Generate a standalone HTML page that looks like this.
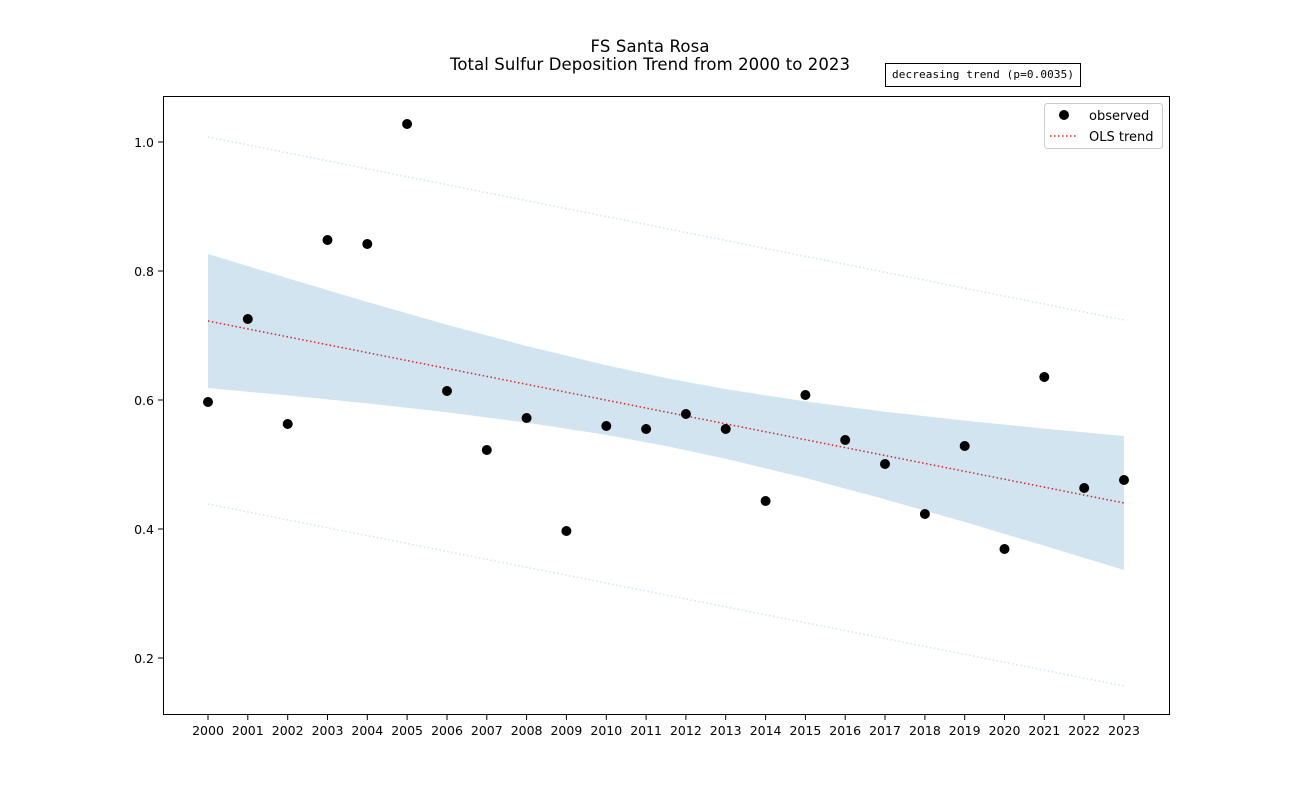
<!DOCTYPE html>
<html><head><meta charset="utf-8"><style>body{margin:0;background:#fff}svg{display:block}</style></head>
<body>
<svg width="1300" height="803" xmlns="http://www.w3.org/2000/svg" font-family="DejaVu Sans, Liberation Sans, sans-serif">
<rect width="1300" height="803" fill="#fff"/>
<text x="650" y="52" font-size="16.5" text-anchor="middle" textLength="119">FS Santa Rosa</text>
<text x="650" y="70" font-size="16.5" text-anchor="middle" textLength="400">Total Sulfur Deposition Trend from 2000 to 2023</text>
<rect x="885.5" y="63.5" width="195" height="23" fill="#fff" stroke="#000"/>
<text x="983" y="78" font-size="11" text-anchor="middle" textLength="182" font-family="DejaVu Sans Mono, Liberation Mono, monospace">decreasing trend (p=0.0035)</text>
<path d="M208,254 L287.7,278.2 L367.3,302 L447,324.7 L526.6,346 L606.3,365.3 L666,378 L725.7,389.1 L805.4,401.4 L885,411.7 L964.7,420.6 L1044.3,428.6 L1124,436 L1124,570 L1044.3,545.8 L964.7,522 L885,499.3 L805.4,478 L725.7,458.7 L666,446 L606.3,434.9 L526.6,422.6 L447,412.3 L367.3,403.4 L287.7,395.4 L208,388 Z" fill="#1f77b4" fill-opacity="0.2"/>
<line x1="208" y1="137" x2="1124" y2="320" stroke="#1f77b4" stroke-opacity="0.2" stroke-dasharray="1.5,2.5" stroke-width="1.5"/>
<line x1="208" y1="504" x2="1124" y2="686" stroke="#1f77b4" stroke-opacity="0.2" stroke-dasharray="1.5,2.5" stroke-width="1.5"/>
<line x1="208" y1="321" x2="1124" y2="503" stroke="#d62728" stroke-dasharray="1.5,2.5" stroke-width="1.5"/>
<g fill="#000">
<circle cx="208" cy="402" r="5"/><circle cx="247.8" cy="319" r="5"/><circle cx="287.7" cy="424" r="5"/><circle cx="327.5" cy="240" r="5"/><circle cx="367.3" cy="244" r="5"/><circle cx="407.1" cy="124" r="5"/><circle cx="447" cy="391" r="5"/><circle cx="486.8" cy="450" r="5"/><circle cx="526.6" cy="418" r="5"/><circle cx="566.4" cy="531" r="5"/><circle cx="606.3" cy="426" r="5"/><circle cx="646.1" cy="429" r="5"/><circle cx="685.9" cy="414" r="5"/><circle cx="725.7" cy="429" r="5"/><circle cx="765.6" cy="501" r="5"/><circle cx="805.4" cy="395" r="5"/><circle cx="845.2" cy="440" r="5"/><circle cx="885" cy="464" r="5"/><circle cx="924.9" cy="514" r="5"/><circle cx="964.7" cy="446" r="5"/><circle cx="1004.5" cy="549" r="5"/><circle cx="1044.3" cy="377" r="5"/><circle cx="1084.2" cy="488" r="5"/><circle cx="1124" cy="480" r="5"/>
</g>
<rect x="163.5" y="96.5" width="1006" height="618" fill="none" stroke="#000"/>
<g stroke="#000">
<line x1="158" y1="142" x2="163" y2="142"/><line x1="158" y1="271" x2="163" y2="271"/><line x1="158" y1="400" x2="163" y2="400"/><line x1="158" y1="529" x2="163" y2="529"/><line x1="158" y1="658" x2="163" y2="658"/>
</g>
<g font-size="12.5" text-anchor="end">
<text x="154" y="147">1.0</text><text x="154" y="276">0.8</text><text x="154" y="405">0.6</text><text x="154" y="534">0.4</text><text x="154" y="663">0.2</text>
</g>
<g font-size="12.5" text-anchor="middle">
<text x="208" y="735">2000</text><text x="247.8" y="735">2001</text><text x="287.7" y="735">2002</text><text x="327.5" y="735">2003</text><text x="367.3" y="735">2004</text><text x="407.1" y="735">2005</text><text x="447" y="735">2006</text><text x="486.8" y="735">2007</text><text x="526.6" y="735">2008</text><text x="566.4" y="735">2009</text><text x="606.3" y="735">2010</text><text x="646.1" y="735">2011</text><text x="685.9" y="735">2012</text><text x="725.7" y="735">2013</text><text x="765.6" y="735">2014</text><text x="805.4" y="735">2015</text><text x="845.2" y="735">2016</text><text x="885" y="735">2017</text><text x="924.9" y="735">2018</text><text x="964.7" y="735">2019</text><text x="1004.5" y="735">2020</text><text x="1044.3" y="735">2021</text><text x="1084.2" y="735">2022</text><text x="1124" y="735">2023</text>
</g>
<path stroke="#000" d="M208,715v5M247.8,715v5M287.7,715v5M327.5,715v5M367.3,715v5M407.1,715v5M447,715v5M486.8,715v5M526.6,715v5M566.4,715v5M606.3,715v5M646.1,715v5M685.9,715v5M725.7,715v5M765.6,715v5M805.4,715v5M845.2,715v5M885,715v5M924.9,715v5M964.7,715v5M1004.5,715v5M1044.3,715v5M1084.2,715v5M1124,715v5"/>
<rect x="1044.5" y="103.5" width="118" height="45" rx="3" fill="#fff" fill-opacity="0.8" stroke="#ccc"/>
<circle cx="1064" cy="115" r="5" fill="#000"/>
<text x="1089" y="120" font-size="13">observed</text>
<line x1="1050" y1="136" x2="1078" y2="136" stroke="#d62728" stroke-dasharray="1.5,2.5" stroke-width="1.5"/>
<text x="1089" y="141" font-size="13">OLS trend</text>
</svg>
</body></html>
